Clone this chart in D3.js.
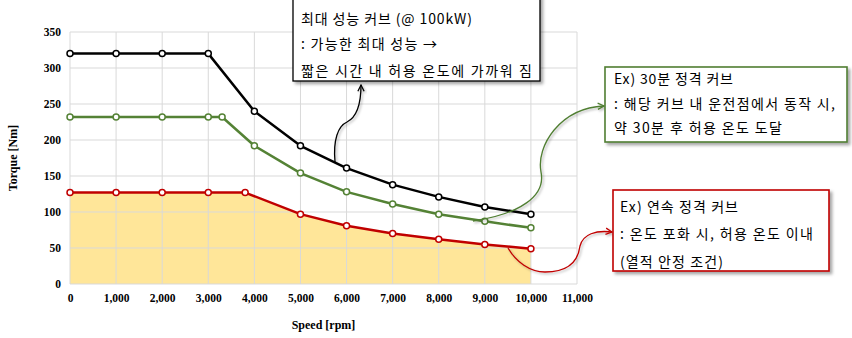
<!DOCTYPE html>
<html><head><meta charset="utf-8">
<script src="https://cdn.jsdelivr.net/npm/d3@7"></script>
<style>body{margin:0;background:#fff}svg{display:block}</style>
</head><body><svg id="c" width="852" height="338"></svg>
<script>
// ---- data ----
const maxSpeed = [0, 1000, 2000, 3000, 4000, 5000, 6000, 7000, 8000, 9000, 10000];
const maxTorque = [320, 320, 320, 320, 240, 192, 161, 138, 121, 107, 97];
const r30Speed = [0, 1000, 2000, 3000, 3300, 4000, 5000, 6000, 7000, 8000, 9000, 10000];
const r30Torque = [232, 232, 232, 232, 232, 192, 154, 128, 111, 97, 87, 78];
const contSpeed = [0, 1000, 2000, 3000, 3800, 5000, 6000, 7000, 8000, 9000, 10000];
const contTorque = [127, 127, 127, 127, 127, 97, 81, 70, 62, 55, 49];
const xTicks = [0, 1000, 2000, 3000, 4000, 5000, 6000, 7000, 8000, 9000, 10000, 11000];
const yTicks = [0, 50, 100, 150, 200, 250, 300, 350];
const xTitle = "Speed [rpm]";
const yTitle = "Torque [Nm]";
const note1 = ["최대 성능 커브 (@ 100kW)", ": 가능한 최대 성능 →", "짧은 시간 내 허용 온도에 가까워 짐"];
const note2 = ["Ex) 30분 정격 커브", ": 해당 커브 내 운전점에서 동작 시,", "약 30분 후 허용 온도 도달"];
const note3 = ["Ex) 연속 정격 커브", ": 온도 포화 시, 허용 온도 이내", "(열적 안정 조건)"];

const svg = d3.select("#c");
const L = 70, R = 577, T = 32, B = 284;
const x = d3.scaleLinear().domain([0, 11000]).range([L, R]);
const y = d3.scaleLinear().domain([0, 350]).range([B, T]);

const defs = svg.append("defs");
const f = defs.append("filter").attr("id", "sh").attr("x", "-20%").attr("y", "-20%").attr("width", "140%").attr("height", "140%");
f.append("feDropShadow").attr("dx", 2.5).attr("dy", 2.5).attr("stdDeviation", 1.5).attr("flood-color", "#000").attr("flood-opacity", 0.35);
const fl = defs.append("filter").attr("id", "shl").attr("x", "-20%").attr("y", "-20%").attr("width", "140%").attr("height", "140%");
fl.append("feDropShadow").attr("dx", 1.5).attr("dy", 1.5).attr("stdDeviation", 1).attr("flood-color", "#000").attr("flood-opacity", 0.3);
function marker(id, color) {
  defs.append("marker").attr("id", id).attr("viewBox", "0 0 10 10").attr("refX", 9).attr("refY", 5)
    .attr("markerWidth", 6).attr("markerHeight", 6).attr("orient", "auto-start-reverse")
    .append("path").attr("d", "M1,1 L9,5 L1,9").attr("fill", "none").attr("stroke", color).attr("stroke-width", 1.6);
}
marker("mk", "#000"); marker("mg", "#507E32"); marker("mr", "#C00000");

// area fill under continuous curve
const cont = contSpeed.map((s, i) => [s, contTorque[i]]);
const area = d3.area().x(d => x(d[0])).y0(y(0)).y1(d => y(d[1]));
svg.append("path").datum(cont).attr("d", area).attr("fill", "#FFE699");

// grid
const g = svg.append("g");
g.selectAll(".vx").data(xTicks).join("line").attr("x1", d => x(d)).attr("x2", d => x(d)).attr("y1", T).attr("y2", B)
  .attr("stroke", "#D9D9D9").attr("stroke-width", 1);
g.selectAll(".hy").data(yTicks).join("line").attr("x1", L).attr("x2", R).attr("y1", d => y(d)).attr("y2", d => y(d))
  .attr("stroke", "#D9D9D9").attr("stroke-width", 1);

// axes labels
const ax = svg.append("g").attr("transform", `translate(0,${B})`)
  .call(d3.axisBottom(x).tickValues(xTicks).tickSize(0).tickPadding(10).tickFormat(d3.format(",")));
ax.select(".domain").remove();
const ay = svg.append("g").attr("transform", `translate(${L},0)`)
  .call(d3.axisLeft(y).tickValues(yTicks).tickSize(0).tickPadding(9));
ay.select(".domain").remove();
svg.selectAll(".tick text").attr("font-family", "Liberation Serif, Times New Roman, serif").attr("font-weight", "bold")
  .attr("font-size", "11.5px").attr("fill", "#000");
svg.append("text").attr("x", (L + R) / 2).attr("y", 329).attr("text-anchor", "middle")
  .attr("font-family", "Liberation Serif, serif").attr("font-weight", "bold").attr("font-size", "12px").text(xTitle);
svg.append("text").attr("transform", `translate(17,${(T + B) / 2}) rotate(-90)`).attr("text-anchor", "middle")
  .attr("font-family", "Liberation Serif, serif").attr("font-weight", "bold").attr("font-size", "12px").text(yTitle);

// lines
const line = d3.line().x(d => x(d[0])).y(d => y(d[1]));
function series(sp, tq, color) {
  const d = sp.map((s, i) => [s, tq[i]]);
  svg.append("path").datum(d).attr("d", line).attr("fill", "none").attr("stroke", color)
    .attr("stroke-width", 2.5).attr("stroke-linejoin", "round");
  svg.append("g").selectAll("circle").data(d).join("circle").attr("cx", p => x(p[0])).attr("cy", p => y(p[1]))
    .attr("r", 3).attr("fill", "#fff").attr("stroke", color).attr("stroke-width", 1.5);
}
series(contSpeed, contTorque, "#C00000");
series(r30Speed, r30Torque, "#548235");
series(maxSpeed, maxTorque, "#000000");

// callout connectors
svg.append("path").attr("d", "M335,162 C333,140 338,126 347,122 C357,117 361,104 361,85")
  .attr("fill", "none").attr("stroke", "#000").attr("stroke-width", 1.3).attr("marker-end", "url(#mk)").attr("filter", "url(#shl)");
svg.append("path").attr("d", "M473,221 C520,214 546,196 541,172 C536,146 560,108 604,106")
  .attr("fill", "none").attr("stroke", "#507E32").attr("stroke-width", 1.3).attr("marker-end", "url(#mg)").attr("filter", "url(#shl)");
svg.append("path").attr("d", "M508,248 C516,262 530,272 545,272 C568,272 578,262 580,246 C583,234 596,230 612,232")
  .attr("fill", "none").attr("stroke", "#C00000").attr("stroke-width", 1.3).attr("marker-end", "url(#mr)").attr("filter", "url(#shl)");

// note boxes
function note(bx, by, bw, bh, stroke, sw, lines, tx, ys, widths) {
  const gg = svg.append("g");
  gg.append("rect").attr("x", bx).attr("y", by).attr("width", bw).attr("height", bh)
    .attr("fill", "#fff").attr("stroke", stroke).attr("stroke-width", sw).attr("filter", "url(#sh)");
  gg.selectAll("text").data(lines).join("text").attr("x", tx).attr("y", (d, i) => ys[i])
    .attr("dominant-baseline", "central").attr("font-family", "Noto Sans CJK KR, sans-serif")
    .attr("font-size", "14px").attr("fill", "#000")
    .attr("textLength", (d, i) => widths[i]).attr("lengthAdjust", "spacing").text(d => d);
}
note(293, -5, 247, 86, "#000", 1.3, note1, 301, [17.5, 43, 69.5], [171, 136, 231]);
note(605, 67, 242, 75, "#507E32", 1.6, note2, 614, [78, 102.5, 126.5], [119, 221, 168]);
note(613, 190, 216, 81, "#C00000", 1.6, note3, 620, [206, 233, 260.5], [118, 193, 103]);
</script></body></html>
